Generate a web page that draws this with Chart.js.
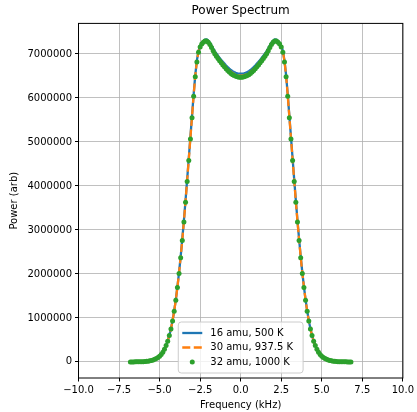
<!DOCTYPE html>
<html>
<head>
<meta charset="utf-8">
<title>Power Spectrum</title>
<script src="https://cdn.jsdelivr.net/npm/chart.js@4.4.1/dist/chart.umd.min.js"></script>
<style>
html, body { margin: 0; padding: 0; background: #fff; }
canvas { display: block; }
</style>
</head>
<body>
<canvas id="graphs" width="417" height="412"></canvas>
<script>
// frequences en kHz
var frequences = [
    -6.8, -6.7, -6.6, -6.5, -6.4, -6.3, -6.2, -6.1, -6.0, -5.9,
    -5.8, -5.7, -5.6, -5.5, -5.4, -5.3, -5.2, -5.1, -5.0, -4.9,
    -4.8, -4.7, -4.6, -4.5, -4.4, -4.3, -4.2, -4.1, -4.0, -3.9,
    -3.8, -3.7, -3.6, -3.5, -3.4, -3.3, -3.2, -3.1, -3.0, -2.9,
    -2.8, -2.7, -2.6, -2.5, -2.4, -2.3, -2.2, -2.1, -2.0, -1.9,
    -1.8, -1.7, -1.6, -1.5, -1.4, -1.3, -1.2, -1.1, -1.0, -0.9,
    -0.8, -0.7, -0.6, -0.5, -0.4, -0.3, -0.2, -0.1,
    0,
    0.1, 0.2, 0.3, 0.4, 0.5, 0.6, 0.7, 0.8,
    0.9, 1.0, 1.1, 1.2, 1.3, 1.4, 1.5, 1.6, 1.7, 1.8,
    1.9, 2.0, 2.1, 2.2, 2.3, 2.4, 2.5, 2.6, 2.7, 2.8,
    2.9, 3.0, 3.1, 3.2, 3.3, 3.4, 3.5, 3.6, 3.7, 3.8,
    3.9, 4.0, 4.1, 4.2, 4.3, 4.4, 4.5, 4.6, 4.7, 4.8,
    4.9, 5.0, 5.1, 5.2, 5.3, 5.4, 5.5, 5.6, 5.7, 5.8,
    5.9, 6.0, 6.1, 6.2, 6.3, 6.4, 6.5, 6.6, 6.7, 6.8
];

// 16 amu, 500 K
var puissance16 = [
    200, 300, 500, 800, 1200, 1800, 2600, 3800, 5500, 8000,
    12000, 17000, 24000, 33000, 45000, 60000, 78000, 100000, 130000, 168000,
    220000, 290000, 371000, 472000, 603000, 755000, 938000, 1160000, 1415000, 1710000,
    2035000, 2400000, 2795000, 3220000, 3675000, 4150000, 4630000, 5115000, 5600000, 6085000,
    6520000, 6855000, 7072000, 7190000, 7257000, 7300000, 7327000, 7329000, 7302000, 7256000,
    7195000, 7128000, 7065000, 7010000, 6960000, 6912000, 6866000, 6822000, 6781000, 6738000,
    6700000, 6666000, 6635000, 6609000, 6589000, 6573000, 6560000, 6553000,
    6550000,
    6553000, 6560000, 6573000, 6589000, 6609000, 6635000, 6666000, 6700000,
    6738000, 6781000, 6822000, 6866000, 6912000, 6960000, 7010000, 7065000, 7128000, 7195000,
    7256000, 7302000, 7329000, 7327000, 7300000, 7257000, 7190000, 7072000, 6855000, 6520000,
    6085000, 5600000, 5115000, 4630000, 4150000, 3675000, 3220000, 2795000, 2400000, 2035000,
    1710000, 1415000, 1160000, 938000, 755000, 603000, 472000, 371000, 290000, 220000,
    168000, 130000, 100000, 78000, 60000, 45000, 33000, 24000, 17000, 12000,
    8000, 5500, 3800, 2600, 1800, 1200, 800, 500, 300, 200
];

// 30 amu, 937.5 K
var puissance30 = [
    200, 300, 500, 800, 1200, 1800, 2600, 3800, 5500, 8000,
    12000, 17000, 24000, 33000, 45000, 60000, 78000, 100000, 130000, 168000,
    220000, 290000, 370000, 471000, 601000, 752000, 934000, 1155000, 1408000, 1700000,
    2022000, 2385000, 2778000, 3200000, 3652000, 4125000, 4605000, 5090000, 5575000, 6062000,
    6500000, 6838000, 7056000, 7175000, 7241000, 7284000, 7311000, 7313000, 7284000, 7236000,
    7172000, 7102000, 7036000, 6979000, 6928000, 6879000, 6832000, 6787000, 6746000, 6702000,
    6663000, 6628000, 6597000, 6570000, 6550000, 6533000, 6520000, 6513000,
    6510000,
    6513000, 6520000, 6533000, 6550000, 6570000, 6597000, 6628000, 6663000,
    6702000, 6746000, 6787000, 6832000, 6879000, 6928000, 6979000, 7036000, 7102000, 7172000,
    7236000, 7284000, 7313000, 7311000, 7284000, 7241000, 7175000, 7056000, 6838000, 6500000,
    6062000, 5575000, 5090000, 4605000, 4125000, 3652000, 3200000, 2778000, 2385000, 2022000,
    1700000, 1408000, 1155000, 934000, 752000, 601000, 471000, 370000, 290000, 220000,
    168000, 130000, 100000, 78000, 60000, 45000, 33000, 24000, 17000, 12000,
    8000, 5500, 3800, 2600, 1800, 1200, 800, 500, 300, 200
];

// 32 amu, 1000 K
var puissance32 = [
    200, 300, 500, 800, 1200, 1800, 2600, 3800, 5500, 8000,
    12000, 17000, 24000, 33000, 45000, 60000, 78000, 100000, 130000, 168000,
    220000, 290000, 370000, 470000, 600000, 750000, 930000, 1150000, 1400000, 1690000,
    2010000, 2370000, 2760000, 3180000, 3630000, 4100000, 4580000, 5065000, 5550000, 6040000,
    6480000, 6820000, 7040000, 7160000, 7225000, 7268000, 7295000, 7296000, 7266000, 7215000,
    7148000, 7075000, 7006000, 6948000, 6896000, 6846000, 6798000, 6752000, 6710000, 6665000,
    6625000, 6590000, 6558000, 6530000, 6510000, 6494000, 6480000, 6473000,
    6470000,
    6473000, 6480000, 6494000, 6510000, 6530000, 6558000, 6590000, 6625000,
    6665000, 6710000, 6752000, 6798000, 6846000, 6896000, 6948000, 7006000, 7075000, 7148000,
    7215000, 7266000, 7296000, 7295000, 7268000, 7225000, 7160000, 7040000, 6820000, 6480000,
    6040000, 5550000, 5065000, 4580000, 4100000, 3630000, 3180000, 2760000, 2370000, 2010000,
    1690000, 1400000, 1150000, 930000, 750000, 600000, 470000, 370000, 290000, 220000,
    168000, 130000, 100000, 78000, 60000, 45000, 33000, 24000, 17000, 12000,
    8000, 5500, 3800, 2600, 1800, 1200, 800, 500, 300, 200
];

var etiquettes = ['16 amu, 500 K', '30 amu, 937.5 K', '32 amu, 1000 K'];
var couleurs = ['#1f77b4', '#ff7f0e', '#2ca02c'];
var ticksX = [-10, -7.5, -5, -2.5, 0, 2.5, 5, 7.5, 10];
var ticksY = [0, 1000000, 2000000, 3000000, 4000000, 5000000, 6000000, 7000000];

Chart.defaults.font.family = '"DejaVu Sans", sans-serif';
Chart.defaults.font.size = 10;
Chart.defaults.color = '#000';

function enPoints(valeurs) {
    return frequences.map((f, i) => ({ x: f, y: valeurs[i] }));
}

function formatX(v) {
    return (v < 0 ? '\u2212' : '') + Math.abs(v).toFixed(1);
}

// titre centre sur la zone du graphe + cadre noir
var cadre = {
    id: 'cadre',
    afterDraw: function(chart) {
        var ctx = chart.ctx;
        var a = chart.chartArea;
        ctx.save();
        ctx.strokeStyle = '#000';
        ctx.lineWidth = 1;
        ctx.strokeRect(a.left, a.top, a.right - a.left, a.bottom - a.top);
        ctx.fillStyle = '#000';
        ctx.font = '12px "DejaVu Sans"';
        ctx.textAlign = 'center';
        ctx.textBaseline = 'middle';
        ctx.fillText('Power Spectrum', (a.left + a.right) / 2, 11);
        ctx.restore();
    }
};

// legende en bas au centre, dans le graphe
var legende = {
    id: 'legende',
    afterDraw: function(chart) {
        var ctx = chart.ctx;
        var a = chart.chartArea;
        ctx.save();
        ctx.font = '10px "DejaVu Sans"';
        var largeurMax = 0;
        etiquettes.forEach(function(t) {
            largeurMax = Math.max(largeurMax, ctx.measureText(t).width);
        });
        var largeur = 32 + largeurMax + 10;
        var hauteur = 51;
        var gauche = (a.left + a.right) / 2 - largeur / 2;
        var bas = a.bottom - 5;
        var haut = bas - hauteur;

        ctx.beginPath();
        ctx.roundRect(gauche, haut, largeur, hauteur, 3);
        ctx.fillStyle = 'rgba(255,255,255,0.8)';
        ctx.fill();
        ctx.strokeStyle = '#cccccc';
        ctx.lineWidth = 1;
        ctx.stroke();

        etiquettes.forEach(function(t, i) {
            var y = haut + 11 + i * 14.5;
            if (i < 2) {
                ctx.beginPath();
                ctx.setLineDash(i === 1 ? [8, 3.5] : []);
                ctx.strokeStyle = couleurs[i];
                ctx.lineWidth = 2.3;
                ctx.moveTo(gauche + 4, y);
                ctx.lineTo(gauche + 24, y);
                ctx.stroke();
                ctx.setLineDash([]);
            } else {
                ctx.beginPath();
                ctx.fillStyle = couleurs[i];
                ctx.arc(gauche + 14, y, 2.5, 0, Math.PI * 2);
                ctx.fill();
            }
            ctx.fillStyle = '#000';
            ctx.textAlign = 'left';
            ctx.textBaseline = 'middle';
            ctx.fillText(t, gauche + 32, y);
        });
        ctx.restore();
    }
};

var ctx = document.getElementById('graphs').getContext('2d');
var currentChart = new Chart(ctx, {
    type: 'line',
    data: {
        datasets: [
            {
                label: etiquettes[0],
                data: enPoints(puissance16),
                borderColor: couleurs[0],
                borderWidth: 2.3,
                pointRadius: 0,
                fill: false,
                order: 3
            },
            {
                label: etiquettes[1],
                data: enPoints(puissance30),
                borderColor: couleurs[1],
                borderWidth: 2.3,
                borderDash: [8, 3.5],
                pointRadius: 0,
                fill: false,
                order: 2
            },
            {
                label: etiquettes[2],
                data: enPoints(puissance32),
                showLine: false,
                pointRadius: 2.5,
                pointBackgroundColor: couleurs[2],
                pointBorderWidth: 0,
                borderColor: couleurs[2],
                order: 1
            }
        ]
    },
    plugins: [cadre, legende],
    options: {
        responsive: false,
        animation: false,
        devicePixelRatio: 1,
        layout: {
            padding: { top: 23.4, right: 14, left: 0, bottom: 0 }
        },
        plugins: {
            legend: { display: false },
            tooltip: { enabled: false }
        },
        scales: {
            x: {
                type: 'linear',
                min: -10,
                max: 10,
                afterBuildTicks: function(scale) {
                    scale.ticks = ticksX.map(v => ({ value: v }));
                },
                afterFit: function(scale) {
                    scale.height = 34;
                },
                ticks: {
                    autoSkip: false,
                    maxRotation: 0,
                    padding: 3,
                    callback: formatX
                },
                grid: {
                    color: '#b0b0b0',
                    lineWidth: 0.8,
                    tickColor: '#000',
                    tickLength: 3.5,
                    tickWidth: 1
                },
                border: { display: false },
                title: {
                    display: true,
                    text: 'Frequency (kHz)',
                    padding: { top: 1, bottom: 1 }
                }
            },
            y: {
                min: -366000,
                max: 7695000,
                afterBuildTicks: function(scale) {
                    scale.ticks = ticksY.map(v => ({ value: v }));
                },
                afterFit: function(scale) {
                    scale.width = 78.5;
                },
                ticks: {
                    padding: 3,
                    callback: function(v) { return String(v); }
                },
                grid: {
                    color: '#b0b0b0',
                    lineWidth: 0.8,
                    tickColor: '#000',
                    tickLength: 3.5,
                    tickWidth: 1
                },
                border: { display: false },
                title: {
                    display: true,
                    text: 'Power (arb)',
                    padding: { top: 8, bottom: 0 }
                }
            }
        }
    }
});
</script>
</body>
</html>
